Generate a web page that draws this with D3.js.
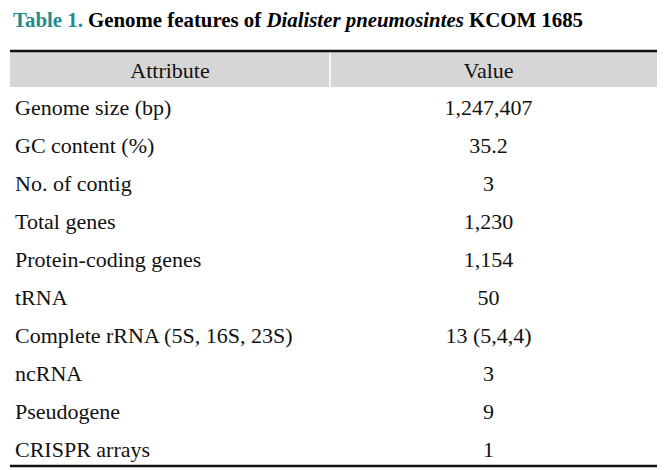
<!DOCTYPE html>
<html><head><meta charset="utf-8">
<script src="https://cdn.jsdelivr.net/npm/d3@7"></script>
<style>body{margin:0;background:#fff}</style>
</head><body>
<svg id="c" width="669" height="470"></svg>
<script>
const headers = ["Attribute", "Value"];
const attributes = ["Genome size (bp)", "GC content (%)", "No. of contig", "Total genes",
  "Protein-coding genes", "tRNA", "Complete rRNA (5S, 16S, 23S)", "ncRNA", "Pseudogene", "CRISPR arrays"];
const values = ["1,247,407", "35.2", "3", "1,230", "1,154", "50", "13 (5,4,4)", "3", "9", "1"];

const svg = d3.select("#c");
const font = "'Liberation Serif', 'Times New Roman', serif";
const left = 10, right = 657, split = 330;
const headTop = 52, headBot = 87, rowH = 38;

// title
const title = svg.append("text").attr("x", 13).attr("y", 27)
  .attr("font-family", font).attr("font-weight", "bold").attr("font-size", 22)
  .attr("textLength", 570).attr("lengthAdjust", "spacingAndGlyphs");
title.append("tspan").attr("fill", "#1f8c8c").text("Table 1. ");
title.append("tspan").attr("fill", "#000").text("Genome features of ");
title.append("tspan").attr("fill", "#000").attr("font-style", "italic").text("Dialister pneumosintes");
title.append("tspan").attr("fill", "#000").text(" KCOM 1685");

// header background
svg.append("rect").attr("x", left).attr("y", headTop).attr("width", right - left).attr("height", headBot - headTop).attr("fill", "#d6d6d6");
svg.append("line").attr("x1", split).attr("x2", split).attr("y1", headTop).attr("y2", headBot).attr("stroke", "#fff").attr("stroke-width", 1.5);
svg.append("line").attr("x1", left).attr("x2", right).attr("y1", 51).attr("y2", 51).attr("stroke", "#111").attr("stroke-width", 2.5);

const y = d3.scaleBand().domain(d3.range(attributes.length)).range([headBot, headBot + rowH * attributes.length]);
const cx = [ (left + split) / 2, (split + right) / 2 - 5 ];

svg.selectAll("text.h").data(headers).join("text").attr("class", "h")
  .attr("x", (d, i) => cx[i]).attr("y", (headTop + headBot) / 2 + 8)
  .attr("text-anchor", "middle").attr("font-family", font).attr("font-size", 22).attr("fill", "#111").text(d => d);

svg.selectAll("text.a").data(attributes).join("text").attr("class", "a")
  .attr("x", 15).attr("y", (d, i) => y(i) + y.bandwidth() / 2 + 9)
  .attr("font-family", font).attr("font-size", 22).attr("fill", "#111").text(d => d);

svg.selectAll("text.v").data(values).join("text").attr("class", "v")
  .attr("x", cx[1]).attr("y", (d, i) => y(i) + y.bandwidth() / 2 + 9)
  .attr("text-anchor", "middle").attr("font-family", font).attr("font-size", 22).attr("fill", "#111").text(d => d);

const bottom = headBot + rowH * attributes.length - 1;
svg.append("line").attr("x1", left).attr("x2", right).attr("y1", bottom).attr("y2", bottom).attr("stroke", "#111").attr("stroke-width", 2.5);
</script>
</body></html>
